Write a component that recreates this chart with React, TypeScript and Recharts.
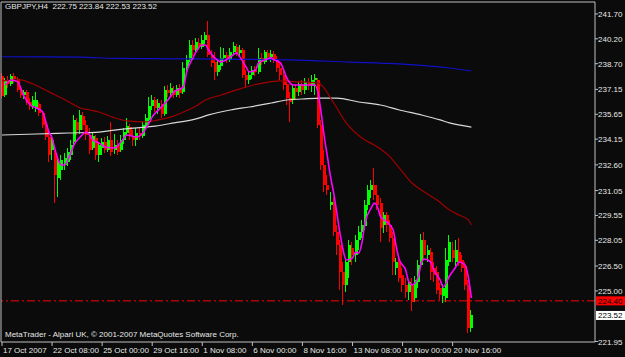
import { ComposedChart, Bar, Line, XAxis, YAxis, ReferenceLine } from "recharts";

// H4 candles, [open, high, low, close], one small list per date label on the axis
const oct17 = [
  [237.96, 238.14, 236.63, 236.75], [236.81, 237.84, 236.69, 237.72], [237.72, 237.96, 237.24, 237.48], [237.48, 238.08, 237.36, 237.96],
  [237.96, 238.14, 237.54, 237.78], [237.78, 237.90, 237.0, 237.12], [237.12, 237.36, 236.63, 236.81], [236.81, 237.12, 236.57, 237.0],
  [237.0, 237.12, 236.21, 236.39], [236.39, 236.63, 235.91, 236.15], [236.15, 236.75, 235.97, 236.51], [236.03, 237.0, 235.79, 236.51],
  [236.27, 236.39, 235.55, 235.73], [235.73, 235.85, 234.82, 235.01], [235.01, 235.19, 234.10, 234.28], [234.28, 234.58, 232.77, 233.20],
];
const oct22 = [
  [233.50, 234.40, 232.89, 234.10], [233.32, 233.50, 230.30, 231.99], [231.81, 233.01, 230.66, 232.77], [232.29, 233.20, 231.69, 232.89],
  [232.59, 233.32, 232.29, 233.01], [232.77, 233.62, 232.53, 233.38], [233.20, 234.10, 232.89, 233.80], [233.98, 235.61, 233.80, 235.31],
  [235.19, 235.43, 234.40, 234.70], [234.70, 235.91, 234.46, 235.61], [235.55, 235.79, 234.70, 235.01], [235.01, 235.31, 234.10, 234.40],
  [234.40, 234.82, 233.26, 233.50], [233.62, 234.58, 233.50, 234.34], [234.22, 234.40, 232.89, 233.20], [233.20, 233.98, 232.77, 233.80],
];
const oct25 = [
  [233.62, 234.22, 233.20, 233.98], [233.98, 234.28, 233.32, 233.50], [233.50, 234.34, 233.38, 234.10], [234.10, 235.19, 233.14, 233.38],
  [233.50, 234.46, 233.26, 233.80], [233.80, 234.10, 233.20, 233.38], [233.50, 234.40, 233.38, 234.10], [234.10, 234.82, 233.86, 234.58],
  [234.52, 235.43, 234.34, 234.94], [234.88, 235.07, 234.10, 234.34], [234.34, 234.70, 233.74, 234.10], [234.10, 234.82, 233.74, 234.52],
  [234.52, 234.88, 234.10, 234.34], [234.34, 235.19, 234.22, 235.01], [234.94, 235.67, 234.70, 235.43], [235.31, 236.69, 235.07, 236.15],
];
const oct29 = [
  [236.15, 236.81, 235.91, 236.51], [236.51, 236.69, 235.79, 236.03], [236.03, 236.57, 235.67, 236.33], [236.27, 236.51, 235.43, 235.67],
  [235.67, 237.36, 235.55, 237.12], [237.12, 237.42, 236.69, 236.94], [236.94, 237.54, 236.75, 237.24], [237.12, 237.36, 236.63, 236.81],
  [236.81, 237.42, 236.69, 237.24], [237.24, 237.48, 236.63, 236.94], [237.0, 238.81, 236.87, 238.44], [238.44, 239.23, 238.14, 238.93],
  [238.93, 240.13, 238.81, 239.83], [239.83, 240.13, 239.17, 239.53], [239.53, 240.25, 239.35, 240.01], [239.95, 240.25, 239.53, 239.71],
];
const nov01 = [
  [239.71, 240.43, 239.59, 240.13], [240.13, 240.61, 239.89, 240.43], [240.43, 241.30, 239.11, 239.23], [239.23, 239.53, 238.50, 238.75],
  [238.81, 239.41, 237.72, 238.20], [238.20, 238.93, 237.96, 238.62], [238.56, 239.71, 238.32, 239.05], [239.05, 239.65, 238.93, 239.23],
  [239.23, 239.41, 238.75, 238.93], [238.93, 239.65, 238.81, 239.41], [239.41, 240.01, 239.23, 239.77], [239.71, 239.89, 239.17, 239.35],
  [239.35, 239.83, 239.11, 239.53], [239.53, 239.65, 237.84, 238.02], [238.02, 238.32, 237.24, 237.72], [237.72, 238.20, 237.48, 238.02],
];
const nov06 = [
  [238.02, 238.56, 237.78, 238.32], [238.32, 238.56, 237.96, 238.20], [238.20, 239.65, 238.08, 239.05], [239.05, 239.35, 238.62, 238.81],
  [238.81, 239.53, 238.68, 239.41], [239.35, 239.53, 238.93, 239.11], [239.11, 239.53, 238.81, 239.29], [239.29, 239.47, 238.75, 238.93],
  [238.93, 239.17, 238.20, 238.44], [238.44, 238.75, 237.72, 238.02], [238.02, 238.32, 237.12, 237.42], [237.48, 237.72, 236.21, 236.63],
  [236.63, 237.0, 235.19, 236.39], [236.51, 237.42, 236.27, 237.24], [237.24, 237.48, 236.51, 237.0], [237.0, 237.60, 236.75, 237.48],
];
const nov08 = [
  [237.48, 237.72, 236.81, 237.12], [237.12, 237.84, 236.87, 237.60], [237.60, 237.84, 237.12, 237.36], [237.36, 238.02, 237.0, 237.72],
  [237.72, 238.08, 236.81, 237.84], [237.72, 237.84, 234.82, 235.01], [235.01, 235.31, 232.29, 232.59], [232.59, 233.50, 230.96, 231.39],
  [231.39, 231.99, 230.78, 231.08], [230.18, 230.96, 229.88, 230.36], [230.36, 230.66, 228.31, 228.55], [228.55, 228.97, 227.16, 227.77],
  [227.77, 228.07, 225.05, 226.14], [226.14, 226.74, 224.15, 225.36], [225.36, 226.98, 224.93, 226.74], [226.74, 228.07, 225.78, 227.77],
];
const nov13 = [
  [227.59, 227.95, 226.56, 227.16], [227.16, 228.37, 226.74, 228.07], [228.07, 228.91, 227.47, 228.55], [228.55, 229.28, 228.19, 228.97],
  [228.91, 230.48, 228.67, 230.18], [230.18, 231.39, 229.88, 231.08], [231.08, 231.69, 230.60, 231.39], [231.39, 232.41, 230.48, 230.78],
  [230.78, 231.39, 229.88, 230.18], [230.30, 230.60, 227.95, 228.79], [228.97, 229.76, 228.49, 229.58], [229.58, 229.76, 228.55, 228.97],
  [228.97, 229.28, 227.95, 228.19], [228.19, 228.55, 225.96, 226.74], [226.38, 226.98, 225.96, 226.74], [226.74, 227.16, 225.54, 225.78],
];
const nov16 = [
  [225.96, 226.38, 224.93, 225.36], [225.36, 225.78, 224.57, 224.93], [224.93, 225.66, 224.45, 225.54], [225.42, 225.78, 223.79, 224.33],
  [224.57, 225.90, 224.33, 225.66], [225.54, 226.86, 225.18, 226.56], [226.56, 228.43, 226.38, 228.07], [228.07, 228.55, 226.86, 227.16],
  [227.16, 227.77, 226.74, 227.47], [227.34, 227.59, 225.66, 226.14], [226.38, 226.74, 225.54, 225.96], [226.14, 226.50, 224.81, 225.05],
  [225.18, 225.48, 224.45, 224.75], [224.69, 225.42, 224.27, 225.18], [224.57, 227.59, 224.33, 226.86], [226.74, 228.37, 226.50, 227.95],
];
const nov20 = [
  [227.47, 227.95, 226.74, 226.98], [226.74, 228.07, 226.38, 227.47], [227.34, 228.19, 226.50, 226.74], [226.86, 227.16, 226.14, 226.38],
  [226.50, 226.74, 225.05, 225.36], [225.36, 225.66, 222.46, 222.76], [222.75, 223.84, 222.53, 223.52],
];

// moving averages: [bar index, value]
const maFast = [
  [1, 237.42], [3, 237.72], [5, 237.6], [7, 236.75], [9, 236.21], [11, 236.03], [13, 235.79], [14, 235.19], [15, 234.58],
  [16, 234.22], [17, 233.5], [18, 232.89], [19, 232.59], [20, 232.59], [21, 232.89], [22, 233.32], [23, 233.8], [25, 234.28],
  [27, 234.58], [28, 234.4], [29, 234.1], [31, 233.92], [33, 233.68], [36, 233.62], [38, 233.98], [40, 234.4], [43, 234.28],
  [45, 234.52], [47, 235.13], [48, 235.49], [50, 235.91], [53, 236.51], [55, 237.0], [58, 237.3], [59, 238.2], [61, 239.05],
  [62, 239.41], [64, 239.83], [65, 239.83], [66, 239.53], [68, 239.05], [70, 238.81], [71, 238.87], [73, 239.11], [75, 239.35],
  [76, 239.11], [78, 238.5], [79, 238.2], [81, 238.32], [82, 238.75], [84, 238.93], [86, 239.05], [87, 238.93], [89, 238.75],
  [90, 238.32], [91, 237.84], [93, 237.42], [95, 237.42], [98, 237.42], [100, 237.42], [101, 236.94], [102, 235.73], [103, 234.28],
  [104, 233.08], [105, 231.87], [106, 230.9], [107, 229.7], [108, 228.49], [109, 227.47], [110, 226.86], [112, 226.98],
  [113, 227.34], [114, 227.28], [115, 227.89], [116, 229.09], [118, 230.0], [119, 230.3], [120, 230.06], [121, 229.46],
  [123, 229.16], [125, 228.67], [126, 227.65], [127, 226.86], [129, 226.26], [130, 225.54], [131, 225.36], [133, 225.84],
  [134, 226.68], [135, 226.92], [137, 226.74], [138, 226.26], [140, 225.66], [141, 225.24], [143, 225.9], [145, 226.44],
  [146, 226.74], [148, 226.56], [149, 225.84], [150, 224.57],
];
const maSlow = [
  [0, 237.66], [6, 237.72], [9, 237.54], [12, 237.3], [15, 237.0], [19, 236.63], [22, 236.33], [25, 236.03], [28, 235.91],
  [31, 235.79], [36, 235.43], [40, 235.25], [46, 235.19], [50, 235.31], [54, 235.49], [58, 235.79], [62, 236.15], [65, 236.51],
  [70, 236.81], [76, 237.18], [82, 237.48], [89, 237.66], [95, 237.6], [101, 237.54], [106, 236.33], [110, 235.13],
  [115, 234.22], [120, 233.68], [124, 233.08], [127, 232.41], [131, 231.51], [135, 230.96], [139, 230.48], [143, 229.88],
  [146, 229.58], [149, 229.28], [150, 228.97],
];
const maMid = [
  [0, 234.4], [11, 234.46], [21, 234.52], [31, 234.58], [36, 234.7], [42, 234.82], [49, 234.94], [55, 235.13], [62, 235.37],
  [66, 235.61], [73, 235.91], [79, 236.09], [86, 236.33], [91, 236.51], [96, 236.57], [102, 236.63], [107, 236.63],
  [114, 236.39], [121, 236.21], [127, 235.91], [134, 235.61], [140, 235.31], [143, 235.13], [150, 234.88],
];
const maLong = [
  [0, 239.12], [25, 239.1], [36, 239.02], [63, 238.99], [92, 238.93], [111, 238.8], [127, 238.69], [143, 238.44], [150, 238.26],
];

const timeTicks = [0, 16, 32, 48, 64, 80, 96, 112, 128, 144];
const timeLabels = [
  "17 Oct 2007", "22 Oct 08:00", "25 Oct 00:00", "29 Oct 16:00", "1 Nov 08:00",
  "6 Nov 00:00", "8 Nov 16:00", "13 Nov 08:00", "16 Nov 00:00", "20 Nov 16:00",
];
const priceTicks = [241.7, 240.2, 238.7, 237.15, 235.65, 234.15, 232.6, 231.05, 229.55, 228.05, 226.5, 225.0, 221.95];
const alertLevel = 224.4;
const bidLevel = 223.52;
const header = "GBPJPY,H4  222.75 223.84 222.53 223.52";
const footer = "MetaTrader - Alpari UK, \u00a9 2001-2007 MetaQuotes Software Corp.";

const fast = new Map(maFast.map(([i, v]) => [i, v]));
const slow = new Map(maSlow.map(([i, v]) => [i, v]));
const mid = new Map(maMid.map(([i, v]) => [i, v]));
const long = new Map(maLong.map(([i, v]) => [i, v]));

const data = [...oct17, ...oct22, ...oct25, ...oct29, ...nov01, ...nov06, ...nov08, ...nov13, ...nov16, ...nov20].map(
  ([o, h, l, c], i) => ({
    i, o, h, l, c,
    range: [l, h],
    fast: fast.get(i) ?? null,
    slow: slow.get(i) ?? null,
    mid: mid.get(i) ?? null,
    long: long.get(i) ?? null,
  })
);

const FONT = "'Liberation Sans', Arial, sans-serif";
const FRAME = "#c0c0c0";
const BG = "#0a0b0a";

const Candle = (props: any) => {
  const { x, y, width, height, payload } = props;
  if (!payload) return null;
  const { o, h, l, c } = payload;
  const top = Math.min(y, y + height);
  const full = Math.abs(height);
  const k = h === l ? 0 : full / (h - l);
  const yo = top + (h - o) * k;
  const yc = top + (h - c) * k;
  const color = c >= o ? "#00ff00" : "#ff0000";
  const cx = Math.round(x + width / 2) - 0.5;
  return (
    <g shapeRendering="crispEdges">
      <line x1={cx} x2={cx} y1={top} y2={top + full} stroke={color} />
      <rect x={cx - 1} y={Math.min(yo, yc)} width={3} height={Math.max(1, Math.abs(yo - yc))} fill={color} />
    </g>
  );
};

const PriceTick = ({ x, y, payload }: any) => (
  <text x={x} y={y} dy={3} fill="#e8e8e8" fontSize={8} fontFamily={FONT} textAnchor="start">
    {Number(payload.value).toFixed(2)}
  </text>
);

const TimeTick = ({ x, y, payload }: any) => (
  <text x={x + 1} y={y} dy={7} fill="#e8e8e8" fontSize={8} fontFamily={FONT} textAnchor="start">
    {timeLabels[timeTicks.indexOf(payload.value)]}
  </text>
);

const priceBox = (text: string, bg: string) => (props: any) => {
  const vb = props.viewBox;
  if (!vb) return null;
  return (
    <g>
      <rect x={vb.x + vb.width + 1} y={vb.y - 4.5} width={29} height={9} fill={bg} />
      <text x={vb.x + vb.width + 3} y={vb.y + 3} fontSize={8} fontFamily={FONT} fill="#000">
        {text}
      </text>
    </g>
  );
};

export default function App() {
  return (
    <div style={{ position: "absolute", left: 0, top: 0, width: 625, height: 357, background: BG, overflow: "hidden" }}>
      <ComposedChart width={625} height={357} data={data} margin={{ top: 1, right: 0, bottom: 0, left: 0 }}>
        <XAxis
          xAxisId="x"
          dataKey="i"
          type="number"
          domain={[-0.32, 189.5]}
          allowDataOverflow
          ticks={timeTicks}
          interval={0}
          height={15}
          tickSize={4}
          tickMargin={0}
          axisLine={{ stroke: FRAME }}
          tickLine={{ stroke: FRAME }}
          tick={<TimeTick />}
        />
        <XAxis xAxisId="top" dataKey="i" type="number" orientation="top" height={1} tick={false} tickLine={false} axisLine={{ stroke: FRAME }} />
        <YAxis
          yAxisId="p"
          orientation="right"
          width={30}
          domain={[221.92, 242.42]}
          allowDataOverflow
          ticks={priceTicks}
          interval={0}
          tickSize={3}
          tickMargin={0}
          axisLine={{ stroke: FRAME }}
          tickLine={{ stroke: FRAME }}
          tick={<PriceTick />}
        />
        <YAxis yAxisId="l" orientation="left" width={1} tick={false} tickLine={false} axisLine={{ stroke: FRAME }} />
        <Line xAxisId="x" yAxisId="p" dataKey="long" stroke="#1010c8" strokeWidth={1.2} dot={false} connectNulls type="monotone" isAnimationActive={false} />
        <Line xAxisId="x" yAxisId="p" dataKey="mid" stroke="#d8d8d8" strokeWidth={1.2} dot={false} connectNulls type="monotone" isAnimationActive={false} />
        <Line xAxisId="x" yAxisId="p" dataKey="slow" stroke="#a00000" strokeWidth={1.2} dot={false} connectNulls type="monotone" isAnimationActive={false} />
        <ReferenceLine xAxisId="x" yAxisId="p" y={alertLevel} stroke="#ff0000" strokeDasharray="8 3 2 3" label={priceBox("224.40", "#ff0000")} />
        <ReferenceLine xAxisId="x" yAxisId="p" y={bidLevel} stroke="none" label={priceBox("223.52", "#ffffff")} />
        <Bar xAxisId="x" yAxisId="p" dataKey="range" barSize={3} shape={<Candle />} isAnimationActive={false} />
        <Line xAxisId="x" yAxisId="p" dataKey="fast" stroke="#ff00ff" strokeWidth={1.6} dot={false} connectNulls type="monotone" isAnimationActive={false} />
      </ComposedChart>
      <div style={{ position: "absolute", left: 5, top: 2, color: "#e8e8e8", fontSize: 8, fontFamily: FONT, whiteSpace: "pre" }}>{header}</div>
      <div style={{ position: "absolute", left: 5, top: 330, color: "#e8e8e8", fontSize: 8, fontFamily: FONT, whiteSpace: "pre" }}>{footer}</div>
    </div>
  );
}
